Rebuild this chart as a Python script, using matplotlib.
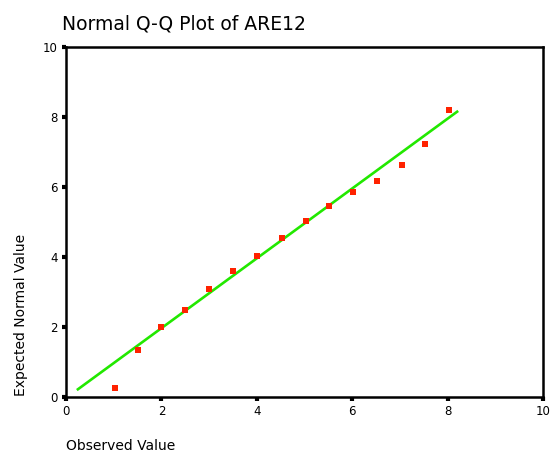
import matplotlib
matplotlib.use('Agg')
import matplotlib.pyplot as plt

# observed vs expected normal values
observed = [1.03, 1.51, 1.99, 2.49, 3.0, 3.5, 4.0, 4.53, 5.03, 5.51, 6.02, 6.52, 7.04, 7.53, 8.03]
expected = [0.26, 1.35, 2.0, 2.49, 3.09, 3.61, 4.04, 4.53, 5.04, 5.47, 5.85, 6.16, 6.62, 7.22, 8.19]

# reference line endpoints
line_x = [0.25, 8.2]
line_y = [0.22, 8.15]

ticks = [0, 2, 4, 6, 8, 10]

fig = plt.figure(figsize=(5.54, 4.57), dpi=100)
ax = fig.add_axes([0.1191, 0.1313, 0.861, 0.766])

ax.plot(line_x, line_y, color='#22e800', linewidth=1.9, zorder=2)
ax.scatter(observed, expected, marker='s', s=22, color='#ff2200', linewidths=0, zorder=3)

ax.set_xlim(0, 10)
ax.set_ylim(0, 10)
ax.set_xticks(ticks)
ax.set_yticks(ticks)
ax.tick_params(direction='out', length=3, width=3, labelsize=8.5, pad=3)
for s in ax.spines.values():
    s.set_linewidth(1.8)

fig.text(0.112, 0.935, 'Normal Q-Q Plot of ARE12', fontsize=13.5, ha='left', va='baseline')
fig.text(0.119, 0.008, 'Observed Value', fontsize=10, ha='left', va='bottom')
fig.text(0.025, 0.133, 'Expected Normal Value', fontsize=10, rotation=90, ha='left', va='bottom')

fig.savefig('out.png', dpi=100)
